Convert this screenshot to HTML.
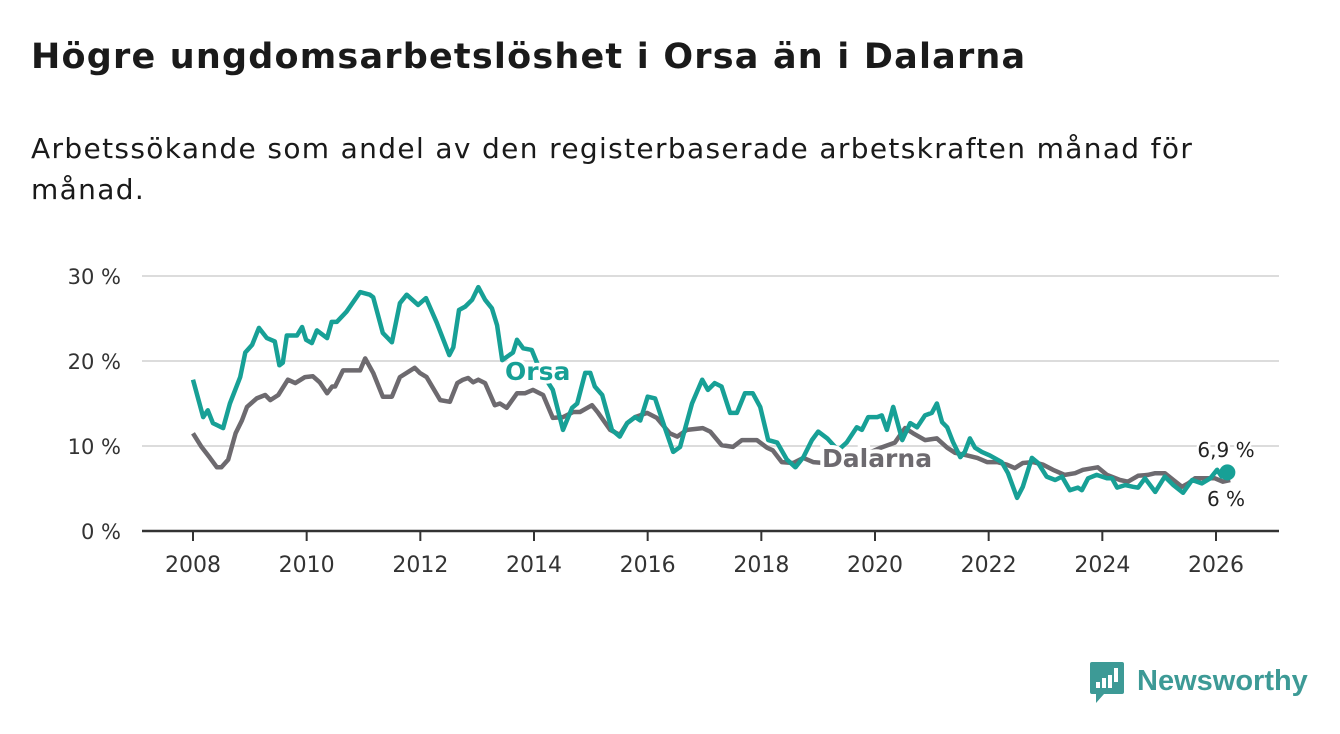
<!DOCTYPE html>
<html><head><meta charset="utf-8">
<style>
body{margin:0;background:#fff;width:1340px;height:734px;overflow:hidden;font-family:"DejaVu Sans","Liberation Sans",sans-serif;}
#title{position:absolute;left:31px;top:37px;font-size:35px;font-weight:bold;color:#1a1a1a;margin:0;letter-spacing:1.2px;}
#sub{position:absolute;left:31px;top:128px;font-size:28px;color:#1a1a1a;line-height:41px;width:1280px;margin:0;letter-spacing:1.35px;}
svg{position:absolute;left:0;top:0;font-family:"DejaVu Sans","Liberation Sans",sans-serif;}
</style></head><body>
<h1 id="title">Högre ungdomsarbetslöshet i Orsa än i Dalarna</h1>
<p id="sub">Arbetssökande som andel av den registerbaserade arbetskraften månad för<br>månad.</p>
<svg id="chart" width="1340" height="734"></svg>
<script>
const yTicks=[0,10,20,30];
const yTickLabels=["0 %","10 %","20 %","30 %"];
const xTicks=[2008,2010,2012,2014,2016,2018,2020,2022,2024,2026];
const orsaT=[2008.0,2008.18,2008.26,2008.35,2008.53,2008.65,2008.83,2008.92,2009.04,2009.16,2009.3,2009.44,2009.52,2009.58,2009.65,2009.83,2009.92,2009.99,2010.09,2010.18,2010.36,2010.44,2010.53,2010.7,2010.94,2011.11,2011.17,2011.34,2011.5,2011.64,2011.76,2011.96,2012.1,2012.29,2012.51,2012.58,2012.68,2012.79,2012.91,2013.02,2013.14,2013.26,2013.35,2013.44,2013.63,2013.7,2013.81,2013.96,2014.1,2014.33,2014.51,2014.67,2014.76,2014.9,2014.99,2015.07,2015.2,2015.37,2015.51,2015.64,2015.78,2015.87,2016.0,2016.13,2016.3,2016.45,2016.57,2016.78,2016.96,2017.06,2017.18,2017.3,2017.45,2017.57,2017.71,2017.85,2017.98,2018.12,2018.28,2018.45,2018.6,2018.74,2018.89,2019.0,2019.16,2019.35,2019.5,2019.68,2019.77,2019.88,2020.04,2020.12,2020.21,2020.32,2020.48,2020.62,2020.74,2020.88,2021.0,2021.09,2021.18,2021.27,2021.37,2021.5,2021.58,2021.67,2021.76,2021.88,2022.02,2022.23,2022.34,2022.5,2022.6,2022.76,2022.87,2023.02,2023.17,2023.29,2023.43,2023.57,2023.64,2023.75,2023.9,2024.08,2024.17,2024.26,2024.4,2024.54,2024.63,2024.75,2024.93,2025.1,2025.25,2025.42,2025.58,2025.75,2025.9,2026.02,2026.1,2026.2];
const orsaV=[17.8,13.4,14.2,12.7,12.1,15,18.1,21,21.9,23.9,22.7,22.3,19.5,19.8,23,23,24,22.5,22.1,23.6,22.7,24.6,24.6,25.8,28.1,27.8,27.5,23.3,22.2,26.8,27.8,26.6,27.4,24.5,20.7,21.6,26,26.4,27.2,28.7,27.2,26.2,24.2,20.1,21,22.5,21.5,21.3,19,16.6,11.9,14.5,15,18.6,18.6,17,16,11.9,11.1,12.7,13.4,13,15.8,15.6,12.2,9.3,9.9,15,17.8,16.6,17.4,17,13.9,13.9,16.2,16.2,14.6,10.7,10.4,8.4,7.5,8.7,10.7,11.7,10.9,9.5,10.4,12.2,11.9,13.4,13.4,13.6,11.9,14.6,10.7,12.7,12.2,13.6,13.9,15,12.8,12.2,10.5,8.7,9.3,10.9,9.8,9.3,8.9,8.1,6.8,3.9,5.2,8.6,8,6.4,6,6.4,4.8,5.1,4.8,6.2,6.6,6.2,6.2,5.1,5.4,5.2,5.1,6.2,4.6,6.4,5.4,4.5,6,5.6,6.2,7.2,6.4,6.9];
const dalT=[2008.0,2008.15,2008.3,2008.42,2008.5,2008.62,2008.75,2008.86,2008.95,2009.12,2009.27,2009.36,2009.5,2009.67,2009.8,2009.97,2010.11,2010.23,2010.36,2010.45,2010.5,2010.64,2010.94,2011.03,2011.17,2011.34,2011.5,2011.64,2011.9,2011.99,2012.11,2012.35,2012.52,2012.65,2012.75,2012.84,2012.93,2013.02,2013.14,2013.31,2013.4,2013.52,2013.7,2013.84,2013.98,2014.16,2014.33,2014.51,2014.69,2014.81,2015.02,2015.13,2015.34,2015.51,2015.64,2015.78,2015.99,2016.16,2016.39,2016.52,2016.69,2016.97,2017.1,2017.3,2017.5,2017.66,2017.92,2018.1,2018.2,2018.36,2018.56,2018.74,2018.91,2019.1,2019.3,2019.5,2019.7,2019.9,2020.1,2020.35,2020.53,2020.67,2020.88,2021.09,2021.27,2021.41,2021.62,2021.8,2021.97,2022.15,2022.32,2022.46,2022.6,2022.78,2022.96,2023.13,2023.34,2023.52,2023.66,2023.92,2024.08,2024.31,2024.45,2024.63,2024.8,2024.93,2025.1,2025.25,2025.4,2025.51,2025.63,2025.81,2025.98,2026.12,2026.25];
const dalV=[11.5,9.9,8.6,7.5,7.5,8.4,11.5,13,14.6,15.6,16,15.4,16,17.8,17.4,18.1,18.2,17.5,16.2,17,17,18.9,18.9,20.3,18.6,15.8,15.8,18.1,19.2,18.6,18.1,15.4,15.2,17.4,17.8,18,17.5,17.8,17.4,14.8,15,14.5,16.2,16.2,16.6,16,13.3,13.4,14,14,14.8,13.9,11.9,11.3,12.7,13.4,13.9,13.3,11.5,11.1,11.9,12.1,11.7,10.1,9.9,10.7,10.7,9.8,9.5,8.1,8,8.6,8.1,8,7.9,8.3,8.6,9.2,9.8,10.4,12.1,11.5,10.7,10.9,9.8,9.2,8.9,8.6,8.1,8.1,7.8,7.4,8,8.1,7.8,7.2,6.6,6.8,7.2,7.5,6.6,6,5.8,6.5,6.6,6.8,6.8,6,5.2,5.6,6.2,6.2,6.2,5.8,6];
const NS="http://www.w3.org/2000/svg";
const svg=document.getElementById('chart');
const X=t=>193+(t-2008)*(1216-193)/18;
const Y=v=>531-v*8.5;
function mk(tag,at,parent){const e=document.createElementNS(NS,tag);for(const k in at)e.setAttribute(k,at[k]);(parent||svg).appendChild(e);return e;}
yTicks.forEach((v,i)=>{
  if(v>0){const g=mk('line',{x1:142,x2:1279,y1:Y(v),y2:Y(v),stroke:'#dcdcdc','stroke-width':2});
  
  }
  const t=mk('text',{x:121,y:Y(v)+8,'text-anchor':'end','font-size':21,fill:'#333'});
  t.textContent=yTickLabels[i];
  
  
});
const ax=mk('line',{x1:142,x2:1279,y1:531,y2:531,stroke:'#333','stroke-width':2.5});


xTicks.forEach(yr=>{
  const tk=mk('line',{x1:X(yr),x2:X(yr),y1:531,y2:541,stroke:'#333','stroke-width':2});
  
  
  const t=mk('text',{x:X(yr),y:572,'text-anchor':'middle','font-size':22,fill:'#333'});
  t.textContent=String(yr);
  
  
});
function path(T,V){return T.map((t,i)=>(i?'L':'M')+X(t).toFixed(1)+','+Y(V[i]).toFixed(1)).join('');}
const dl=mk('path',{d:path(dalT,dalV),fill:'none',stroke:'#6d6a6f','stroke-width':4.5,'stroke-linejoin':'round'});


const ol=mk('path',{d:path(orsaT,orsaV),fill:'none',stroke:'#17a096','stroke-width':4.5,'stroke-linejoin':'round'});


const lo=mk('text',{x:505,y:380,'font-size':25,'font-weight':'bold',fill:'#17a096',stroke:'#fff','stroke-width':7,'paint-order':'stroke'});
lo.textContent='Orsa';


const ld=mk('text',{x:822,y:467,'font-size':25,'font-weight':'bold',fill:'#6d6a6f',stroke:'#fff','stroke-width':8,'paint-order':'stroke'});
ld.textContent='Dalarna';


const lt=orsaT.length-1;
const dot=mk('circle',{cx:X(orsaT[lt]),cy:Y(orsaV[lt]),r:8,fill:'#17a096'});


const ev=mk('text',{x:1226,y:457,'text-anchor':'middle','font-size':20,fill:'#222',stroke:'#fff','stroke-width':5,'paint-order':'stroke'});
ev.textContent=orsaV[lt].toString().replace('.',',')+' %';


const dv=mk('text',{x:1226,y:506,'text-anchor':'middle','font-size':20,fill:'#222',stroke:'#fff','stroke-width':5,'paint-order':'stroke'});
dv.textContent=dalV[dalV.length-1].toString().replace('.',',')+' %';


const lg=mk('g',{});


mk('path',{d:'M1092,662 h30 a2,2 0 0 1 2,2 v28 a2,2 0 0 1 -2,2 h-18 l-8,9 v-9 h-4 a2,2 0 0 1 -2,-2 v-28 a2,2 0 0 1 2,-2z',fill:'#3d9a96'},lg);
[[1096,682,4,6],[1102,678,4,10],[1108,675,4,13],[1114,668,4,14]].forEach(r=>mk('rect',{x:r[0],y:r[1],width:r[2],height:r[3],fill:'#fff'},lg));
const lt2=mk('text',{x:1137,y:690,'font-size':29,'font-weight':'bold',fill:'#3d9a96','font-family':'Liberation Sans, sans-serif'},lg);
lt2.textContent='Newsworthy';
</script>
</body></html>
